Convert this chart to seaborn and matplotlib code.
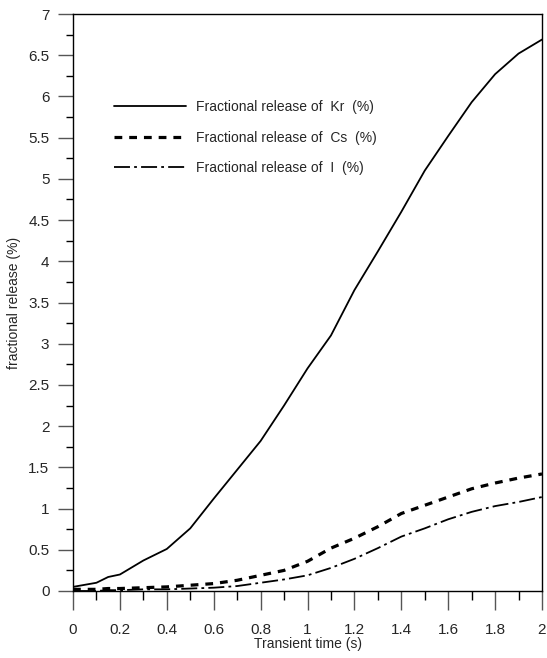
import matplotlib
matplotlib.use("Agg")
import matplotlib.pyplot as plt
import seaborn as sns
import pandas as pd
from matplotlib.ticker import MultipleLocator, FormatStrFormatter

time_s = [0.0, 0.1, 0.15, 0.2, 0.3, 0.4, 0.5, 0.6, 0.7, 0.8, 0.9, 1.0,
          1.1, 1.2, 1.3, 1.4, 1.5, 1.6, 1.7, 1.8, 1.9, 2.0]
kr = [0.05, 0.10, 0.17, 0.20, 0.37, 0.51, 0.76, 1.12, 1.47, 1.82, 2.25, 2.70,
      3.10, 3.65, 4.12, 4.60, 5.10, 5.52, 5.93, 6.27, 6.52, 6.69]
cs = [0.02, 0.02, 0.03, 0.03, 0.04, 0.05, 0.07, 0.09, 0.13, 0.19, 0.25, 0.36,
      0.52, 0.64, 0.78, 0.94, 1.04, 1.14, 1.24, 1.31, 1.37, 1.42]
iod = [0.00, 0.00, 0.01, 0.01, 0.02, 0.02, 0.03, 0.04, 0.06, 0.10, 0.14, 0.19,
       0.28, 0.39, 0.52, 0.66, 0.76, 0.87, 0.96, 1.03, 1.08, 1.14]
labels = ["Fractional release of  Kr  (%)",
          "Fractional release of  Cs  (%)",
          "Fractional release of  I  (%)"]

sns.set_style("white")
plt.rcParams["lines.scale_dashes"] = False
plt.rcParams["font.family"] = ["Liberation Sans", "DejaVu Sans"]

df = pd.DataFrame({"t": time_s, "kr": kr, "cs": cs, "i": iod})

fig = plt.figure(figsize=(5.47, 6.58), dpi=100)
ax = fig.add_axes([73/547, 1-591/658, (542-73)/547, (591-14)/658])

sns.lineplot(data=df, x="t", y="kr", ax=ax, color="black", lw=1.3,
             linestyle="-", label=labels[0])
sns.lineplot(data=df, x="t", y="cs", ax=ax, color="black", lw=2.3,
             linestyle=(0, (5.6, 5.0)), label=labels[1])
sns.lineplot(data=df, x="t", y="i", ax=ax, color="black", lw=1.3,
             linestyle=(0, (11.5, 3, 2, 3)), label=labels[2])

ax.set_xlim(0, 2)
ax.set_ylim(0, 7)
ax.xaxis.set_major_locator(MultipleLocator(0.2))
ax.xaxis.set_minor_locator(MultipleLocator(0.1))
ax.yaxis.set_major_locator(MultipleLocator(0.5))
ax.yaxis.set_minor_locator(MultipleLocator(0.25))
ax.xaxis.set_major_formatter(FormatStrFormatter("%g"))
ax.yaxis.set_major_formatter(FormatStrFormatter("%g"))

ax.tick_params(axis="x", which="major", direction="out", length=14, width=1,
               color="#555555", pad=9, labelsize=11, bottom=True)
ax.tick_params(axis="x", which="minor", direction="out", length=6.5, width=1,
               color="black", bottom=True)
ax.tick_params(axis="y", which="major", direction="out", length=11, width=1,
               color="#555555", pad=6, labelsize=11, left=True)
ax.tick_params(axis="y", which="minor", direction="out", length=5, width=1,
               color="black", left=True)
for s in ax.spines.values():
    s.set_color("black")
    s.set_linewidth(1.0)
    s.set_visible(True)

ax.set_xlabel("Transient time (s)", fontsize=10, labelpad=0)
ax.set_ylabel("fractional release (%)", fontsize=10, labelpad=5)

leg = ax.legend(loc="upper left", bbox_to_anchor=(0.06, 0.872), frameon=False,
                handlelength=5.2, handletextpad=0.7, labelspacing=1.17,
                prop={"size": 10})

fig.savefig("out.png", dpi=100)
